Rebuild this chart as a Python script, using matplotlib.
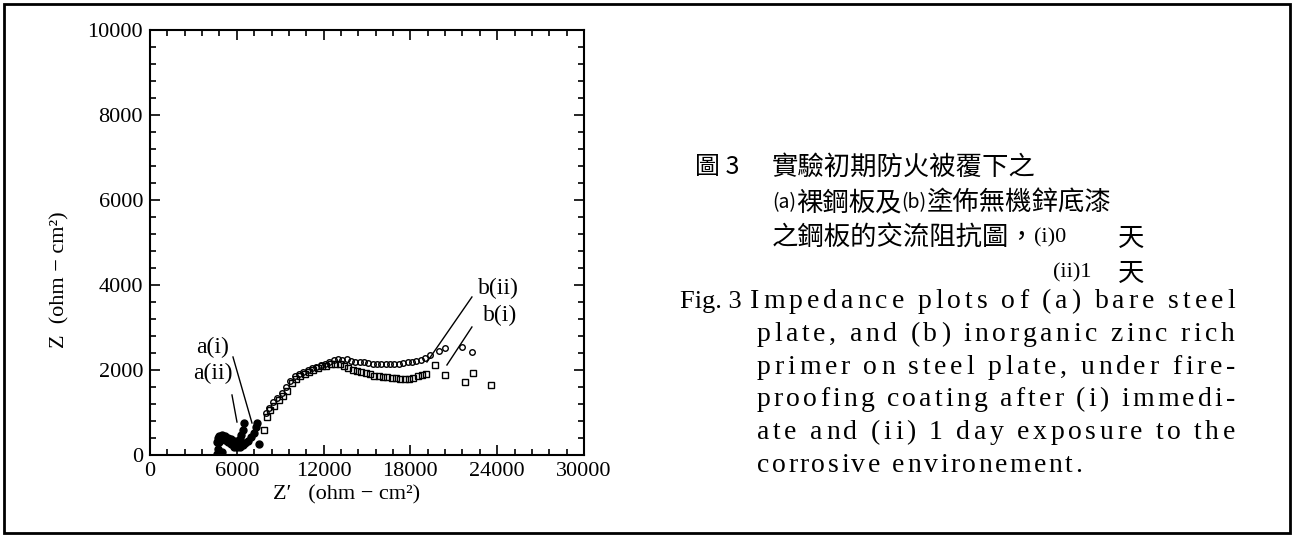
import matplotlib
matplotlib.use("Agg")
import matplotlib.pyplot as plt
from matplotlib.patches import Rectangle
from matplotlib.ticker import MultipleLocator

# bare steel plate, (i) 0 day and (ii) 1 day
a_i_x = [4600, 4700, 4800, 5000, 5200, 5400, 5600, 5800, 6000, 6200, 6400, 6600,
         6800, 7000, 7200, 7300, 7400, 7500]
a_i_y = [20, 150, 300, 380, 350, 300, 260, 200, 180, 200, 230, 280,
         330, 420, 520, 650, 760, 260]
a_ii_x = [4600, 4700, 4800, 5000, 5200, 5400, 5600, 5800, 6000, 6200, 6300, 6400, 6500, 5000]
a_ii_y = [300, 400, 450, 470, 440, 400, 370, 330, 320, 380, 480, 600, 750, 60]

# zinc rich primer, (i) 0 day and (ii) 1 day
b_i_x = [7900, 8100, 8300, 8600, 8900, 9200, 9500, 9800, 10100, 10400, 10700, 11000,
         11300, 11600, 11900, 12200, 12500, 12800, 13100, 13400, 13700, 14000, 14300,
         14600, 14900, 15200, 15500, 15800, 16100, 16400, 16700, 17000, 17300, 17600,
         17900, 18200, 18500, 18800, 19100, 19700, 20400, 21800, 22300, 23600]
b_i_y = [600, 900, 1050, 1150, 1300, 1400, 1500, 1700, 1800, 1850, 1900, 1950,
         2000, 2050, 2100, 2100, 2150, 2150, 2150, 2100, 2050, 2000, 1980,
         1960, 1940, 1900, 1870, 1850, 1840, 1830, 1820, 1810, 1800, 1790,
         1800, 1820, 1850, 1880, 1900, 2120, 1880, 1720, 1930, 1650]
b_ii_x = [8000, 8200, 8500, 8800, 9100, 9400, 9700, 10000, 10300, 10600, 10900, 11200,
          11500, 11800, 12100, 12400, 12700, 13000, 13300, 13600, 13900, 14200, 14500,
          14800, 15100, 15400, 15700, 16000, 16300, 16600, 16900, 17200, 17500, 17800,
          18100, 18400, 18700, 19000, 19350, 20000, 20400, 21560, 22250]
b_ii_y = [1000, 1100, 1250, 1350, 1450, 1600, 1750, 1850, 1900, 1950, 2000, 2050,
          2080, 2120, 2150, 2200, 2230, 2250, 2230, 2250, 2220, 2200, 2200,
          2180, 2170, 2150, 2150, 2140, 2130, 2140, 2140, 2150, 2160, 2180,
          2200, 2220, 2240, 2280, 2350, 2450, 2520, 2540, 2420]

x_ticks = [0, 6000, 12000, 18000, 24000, 30000]
y_ticks = [0, 2000, 4000, 6000, 8000, 10000]

W, H = 1293, 536
serif = "Liberation Serif"
cjk = ["Noto Sans CJK TC", "DejaVu Sans"]

fig = plt.figure(figsize=(W / 100, H / 100), dpi=100)
renderer = fig.canvas.get_renderer()
fig.patches.append(Rectangle((4 / W, 1 - 533 / H), 1286 / W, 529 / H, transform=fig.transFigure,
                             fill=False, edgecolor="black", linewidth=2))

ax = fig.add_axes([150 / W, 1 - 455 / H, 434 / W, 425 / H])
ax.set_xlim(0, 30000)
ax.set_ylim(0, 10000)
ax.set_xticks(x_ticks)
ax.set_yticks(y_ticks)
ax.xaxis.set_minor_locator(MultipleLocator(1200))
ax.yaxis.set_minor_locator(MultipleLocator(400))
ax.tick_params(which="both", direction="in", top=True, right=True, width=1.2, labelsize=16, pad=5)
ax.tick_params(which="major", length=7)
ax.tick_params(which="minor", length=4)
for lab in ax.get_xticklabels() + ax.get_yticklabels():
    lab.set_fontfamily(serif)
for s in ax.spines.values():
    s.set_linewidth(1.5)

ax.plot(a_i_x, a_i_y, "o", color="black", markersize=5, linestyle="none")
ax.plot(a_ii_x, a_ii_y, "o", color="black", markersize=5, linestyle="none")
ax.plot(b_i_x, b_i_y, "s", markerfacecolor="none", markeredgecolor="black",
        markersize=4, markeredgewidth=1, linestyle="none")
ax.plot(b_ii_x, b_ii_y, "o", markerfacecolor="none", markeredgecolor="black",
        markersize=4, markeredgewidth=1, linestyle="none")

# curve labels with leader lines
ax.text(4350, 2540, "a(i)", fontsize=17, family=serif, ha="center", va="center")
ax.text(4350, 1930, "a(ii)", fontsize=17, family=serif, ha="center", va="center")
ax.plot([5736, 7049], [2306, 753], color="black", linewidth=1)
ax.plot([5667, 6012], [1412, 776], color="black", linewidth=1)
ax.text(24050, 3930, "b(ii)", fontsize=17, family=serif, ha="center", va="center")
ax.text(24190, 3290, "b(i)", fontsize=17, family=serif, ha="center", va="center")
ax.plot([22253, 19143], [3718, 2188], color="black", linewidth=1)
ax.plot([22253, 20525], [3012, 2118], color="black", linewidth=1)

fig.text(60 / W, 1 - 280 / H, "Z  (ohm \u2212 cm\u00b2)", rotation=90, ha="center", va="center",
         fontsize=16, family=serif)
fig.text(347 / W, 1 - 495 / H, "Z\u2032   (ohm \u2212 cm\u00b2)", ha="center", va="center",
         fontsize=16, family=serif)


def width(s, size, fam):
    t = fig.text(0, 0, s, fontsize=size, family=fam)
    w = t.get_window_extent(renderer).width
    t.remove()
    return w


def run(x, y, pieces):
    # pieces: (string, fontsize, family) placed one after another
    for s, size, fam in pieces:
        fig.text(x / W, 1 - y / H, s, fontsize=size, family=fam, va="center")
        x += width(s, size, fam)


# Chinese caption
run(695, 167, [("圖 3", 18, cjk)])
run(772, 167, [("實驗初期防火被覆下之", 19, cjk)])
run(772, 203, [("(a)", 14, cjk), ("裸鋼板及", 19, cjk), ("(b)", 14, cjk), ("塗佈無機鋅底漆", 19, cjk)])
run(772, 238, [("之鋼板的交流阻抗圖，", 19, cjk)])
run(1034, 238, [("(i)0", 16, serif)])
run(1053, 273, [("(ii)1", 16, serif)])
run(1118, 238, [("天", 19, cjk)])
run(1118, 273, [("天", 19, cjk)])

# English caption: slightly letter-spaced, justified lines
ES = 20
SPACE = 0.35 * ES * 100 / 72


def spaced_word(x, y, word, track):
    for k, ch in enumerate(word):
        pre = width(word[:k], ES, serif) if k else 0
        fig.text((x + pre + track * k) / W, 1 - y / H, ch, fontsize=ES, family=serif, va="center")
    return width(word, ES, serif) + track * (len(word) - 1)


def spaced_line(left, y, words, right=None, track=1.5):
    nat = [width(w, ES, serif) for w in words]
    if right is not None:
        nchar = sum(len(w) for w in words)
        track = (right - left - sum(nat) - SPACE * (len(words) - 1)) / (nchar - 1)
    x = left
    for w in words:
        x += spaced_word(x, y, w, track) + SPACE + track


fig.text(680 / W, 1 - 302 / H, "Fig. 3", fontsize=19, family=serif, va="center")
lines = [
    (750, ["Impedance", "plots", "of", "(a)", "bare", "steel"]),
    (757, ["plate,", "and", "(b)", "inorganic", "zinc", "rich"]),
    (757, ["primer", "on", "steel", "plate,", "under", "fire-"]),
    (757, ["proofing", "coating", "after", "(i)", "immedi-"]),
    (757, ["ate", "and", "(ii)", "1", "day", "exposure", "to", "the"]),
]
for i, (left, words) in enumerate(lines):
    spaced_line(left, 302 + 32.6 * i, words, right=1235)
spaced_line(757, 302 + 32.6 * 5, ["corrosive", "environement."], track=2.5)

fig.savefig("out.png", dpi=100)
